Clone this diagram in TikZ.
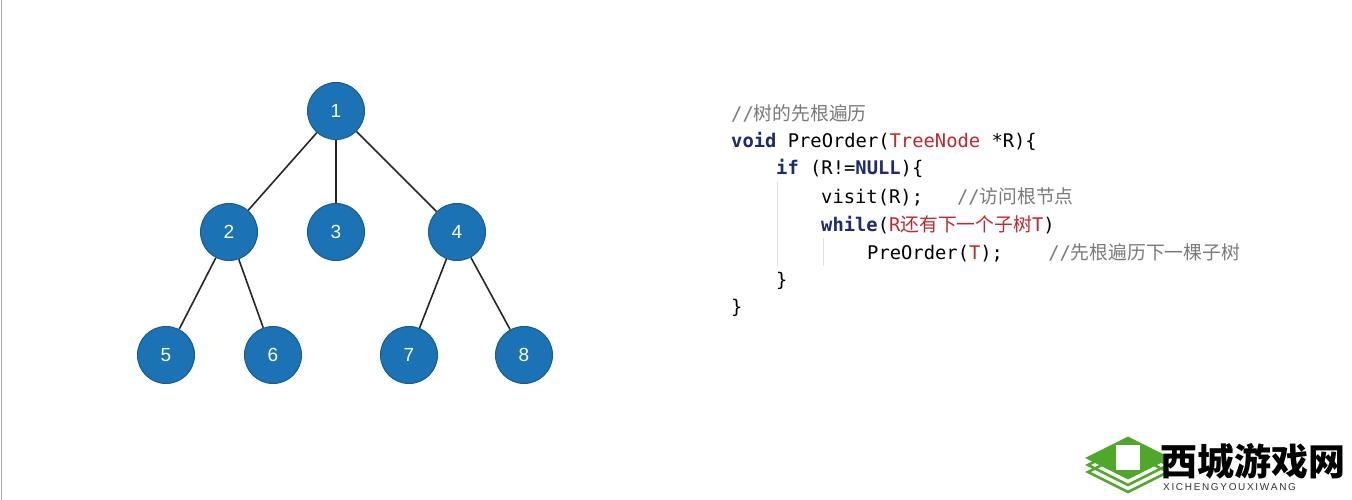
\documentclass[tikz,border=0pt]{standalone}
\usepackage{fontspec}
\setmonofont{DejaVu Sans Mono}
\setsansfont{Liberation Sans}
\newfontfamily\cjk{Noto Sans CJK SC}
\begin{document}
\begin{tikzpicture}[x=1pt,y=-1pt,
  tn/.style={circle,fill=nodeblue,draw=nodeblue!80!black,line width=1pt,minimum size=57pt,inner sep=0pt,text=white,font=\sffamily\fontsize{19}{19}\selectfont},
  ed/.style={line width=1.6pt,black!85},
  code/.style={anchor=base west,inner sep=0pt,font=\ttfamily\fontsize{18.8}{18.8}\selectfont},
  guide/.style={gray!25,line width=1pt}]
\definecolor{nodeblue}{HTML}{1B72B5}
\definecolor{kw}{HTML}{1E2A6E}
\definecolor{rd}{HTML}{C0282D}
\definecolor{cm}{HTML}{7A7A7A}
\definecolor{lg}{HTML}{4FA82A}
\fill[white] (0,0) rectangle (1352,500);
\useasboundingbox (0,0) rectangle (1352,500);
\draw[gray!70,line width=1pt] (1.5,0) -- (1.5,500);
\node[tn] (n1) at (336,111) {1};
\node[tn] (n2) at (229,232) {2};
\node[tn] (n3) at (336,232) {3};
\node[tn] (n4) at (457,232) {4};
\node[tn] (n5) at (166,355) {5};
\node[tn] (n6) at (273,355) {6};
\node[tn] (n7) at (409,355) {7};
\node[tn] (n8) at (524,355) {8};
\draw[ed] (n1) -- (n2); \draw[ed] (n1) -- (n3); \draw[ed] (n1) -- (n4);
\draw[ed] (n2) -- (n5); \draw[ed] (n2) -- (n6);
\draw[ed] (n4) -- (n7); \draw[ed] (n4) -- (n8);
\draw[guide] (777,182) -- (777,266);
\draw[guide] (823,238) -- (823,266);
\node[code] (c1) at (731,121) {\textcolor{cm}{//{\cjk 树的先根遍历}}};
\node[code] (c2) at (731,148) {\textcolor{kw}{\bfseries void} PreOrder(\textcolor{rd}{TreeNode} *R)\{};
\node[code] (c3) at (776,175) {\textcolor{kw}{\bfseries if} (R!=\textcolor{kw}{\bfseries NULL})\{};
\node[code] (c4) at (821,203) {visit(R);\ \ \ \textcolor{cm}{//{\cjk 访问根节点}}};
\node[code] (c5) at (821,231) {\textcolor{kw}{\bfseries while}(\textcolor{rd}{R{\cjk 还有下一个子树}T})};
\node[code] (c6) at (867,259) {PreOrder(\textcolor{rd}{T});\ \ \ \ \textcolor{cm}{//{\cjk 先根遍历下一棵子树}}};
\node[code] (c7) at (776,286) {\}};
\node[code] (c8) at (731,313) {\}};
% logo
\foreach \d in {0,7,14}{
  \draw[lg,line width=2.5pt] (1088,472+\d-14) -- (1128,452+\d-14) -- (1168,472+\d-14) -- (1128,492+\d-14) -- cycle;}
\fill[lg] (1088,458) -- (1128,438) -- (1168,458) -- (1128,478) -- cycle;
\fill[white] (1116,445) rectangle (1140,470);
\node[anchor=west,inner sep=0pt,font=\cjk\bfseries\fontsize{37}{37}\selectfont] (logo) at (1160,461) {西城游戏网};
\node[anchor=west,inner sep=0pt,font=\sffamily\fontsize{10}{10}\selectfont,black!80] (logo2) at (1163,487) {X\,I\,C\,H\,E\,N\,G\,Y\,O\,U\,X\,I\,W\,A\,N\,G};
\end{tikzpicture}
\end{document}
